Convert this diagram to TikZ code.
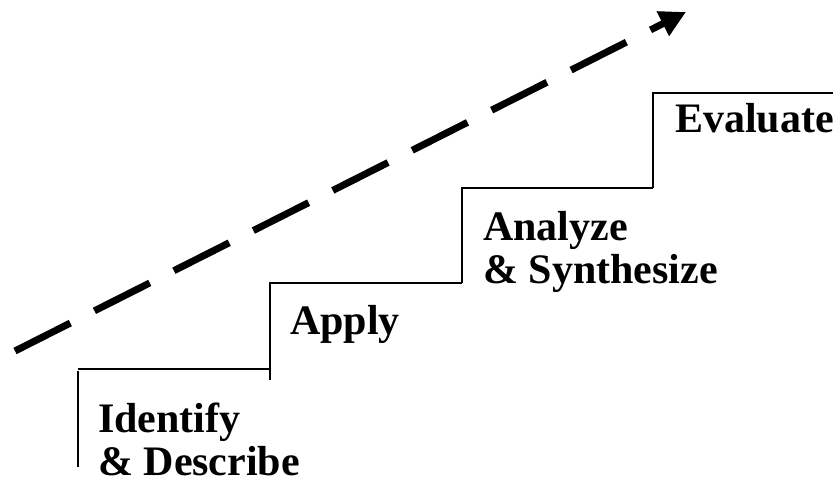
\documentclass[tikz,border=0pt]{standalone}
\usepackage{fontspec}
\setmainfont{Liberation Serif}
\usetikzlibrary{arrows.meta}
\tikzstyle{every picture}=[x=1pt,y=-1pt]
\tikzstyle{level}=[draw=none,inner sep=0pt,anchor=base west,align=left,
                   font=\fontsize{42}{43}\selectfont\bfseries]
\tikzstyle{stair}=[line width=1.6pt]
\tikzstyle{climb}=[line width=7pt,dash pattern=on 62pt off 27pt,
                   -{Triangle[length=26pt,width=26pt]}]

\begin{document}
\begin{tikzpicture}
  \useasboundingbox (0,0) rectangle (833,487);
  % the stairs
  \draw[stair] (78,467)--(78,371);
  \draw[stair] (78,369)--(270,369);
  \draw[stair] (270,380)--(270,283)--(462,283);
  \draw[stair] (462,283)--(462,188)--(653,188);
  \draw[stair] (653,188)--(653,93)--(833,93);
  % the levels (base is on the last line)
  \node[level] (identify) at (98,475) {Identify\\\& Describe};
  \node[level] (apply) at (290,334) {Apply};
  \node[level] (analyze) at (483,283) {Analyze\\\& Synthesize};
  \node[level] (evaluate) at (675,132) {Evaluate};
  % going up
  \coordinate (low) at (15,351);
  \coordinate (high) at (686,12);
  \draw[climb] (low)--(high);
\end{tikzpicture}
\end{document}
